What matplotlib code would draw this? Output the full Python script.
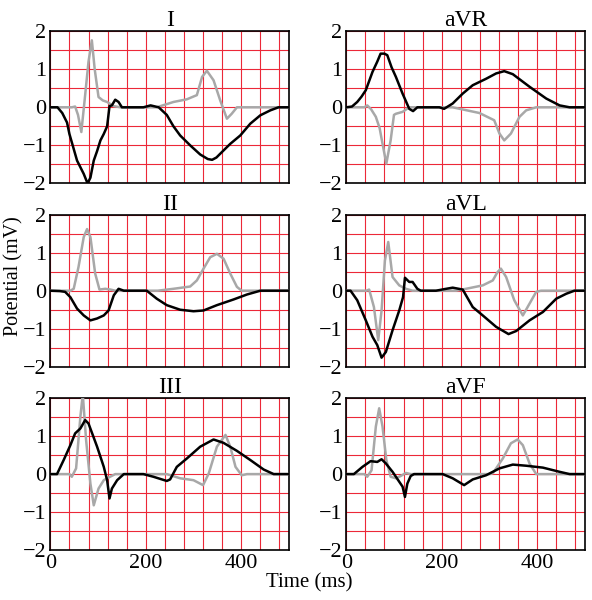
import matplotlib
matplotlib.use("Agg")
import matplotlib.pyplot as plt
import numpy as np

plt.rcParams["font.family"] = ["Liberation Serif", "DejaVu Serif"]

# lead name, then (time ms, potential mV) points for black and grey traces
lead_names = ["I", "aVR", "II", "aVL", "III", "aVF"]

I_black = [(0, 0), (15, 0), (25, -0.15), (35, -0.4), (40, -0.7), (48, -1.05), (56, -1.4),
           (70, -1.75), (78, -2.0), (84, -1.85), (91, -1.4), (98, -1.15), (105, -0.87),
           (112, -0.7), (119, -0.5), (124, 0.03), (129, 0.05), (136, 0.2), (143, 0.14),
           (150, 0), (195, 0), (210, 0.05), (227, 0), (244, -0.2), (258, -0.5), (272, -0.74),
           (293, -1.0), (314, -1.24), (330, -1.36), (339, -1.38), (348, -1.32), (356, -1.22),
           (377, -0.96), (398, -0.74), (419, -0.43), (440, -0.21), (461, -0.08), (478, 0),
           (500, 0)]
I_grey = [(0, 0), (45, 0), (52, 0.02), (58, -0.2), (65, -0.65), (72, 0.2), (80, 1.2),
          (87, 1.76), (93, 1.0), (101, 0.27), (110, 0.18), (119, 0.14), (133, 0.03),
          (147, 0), (223, 0), (258, 0.14), (286, 0.21), (307, 0.32), (318, 0.8), (328, 0.96),
          (342, 0.71), (356, 0.18), (370, -0.3), (380, -0.17), (391, 0), (500, 0)]

aVR_black = [(0, 0), (12, 0.02), (23, 0.14), (32, 0.28), (41, 0.45), (55, 0.93), (65, 1.2),
             (72, 1.41), (80, 1.41), (86, 1.37), (95, 1.05), (104, 0.8), (118, 0.36),
             (132, -0.04), (140, -0.1), (149, 0), (195, 0), (205, -0.04), (223, 0.1),
             (244, 0.36), (265, 0.58), (293, 0.75), (314, 0.89), (331, 0.95), (349, 0.87),
             (384, 0.54), (419, 0.23), (447, 0.05), (468, 0), (500, 0)]
aVR_grey = [(0, 0), (38, 0), (44, 0.05), (52, -0.05), (62, -0.25), (70, -0.55), (76, -0.96),
            (84, -1.48), (93, -0.87), (100, -0.2), (104, -0.17), (118, -0.12), (132, 0),
            (223, 0), (279, -0.15), (310, -0.34), (321, -0.69), (331, -0.87), (345, -0.69),
            (363, -0.25), (377, -0.08), (398, 0), (500, 0)]

II_black = [(0, 0), (20, -0.01), (31, -0.03), (42, -0.17), (56, -0.47), (70, -0.65),
            (84, -0.78), (98, -0.73), (112, -0.65), (122, -0.52), (133, -0.12), (143, 0.05),
            (154, 0), (202, 0), (223, -0.21), (244, -0.38), (272, -0.5), (300, -0.54),
            (321, -0.52), (349, -0.38), (384, -0.23), (412, -0.1), (440, 0), (500, 0)]
II_grey = [(0, 0), (42, 0), (49, 0.05), (59, 0.62), (70, 1.41), (77, 1.62), (84, 1.41),
           (94, 0.45), (103, 0.03), (115, 0.05), (126, 0.03), (136, 0), (225, 0),
           (258, 0.05), (293, 0.11), (307, 0.27), (321, 0.58), (335, 0.88), (349, 0.97),
           (363, 0.84), (377, 0.45), (391, 0.1), (401, 0), (500, 0)]

aVL_black = [(0, 0), (9, 0), (23, -0.25), (41, -0.78), (55, -1.21), (65, -1.43), (74, -1.76),
             (83, -1.61), (97, -1.04), (111, -0.52), (119, -0.17), (123, 0.34), (132, 0.23),
             (139, 0.23), (149, 0.05), (156, 0), (188, 0), (205, 0.04), (223, 0.08),
             (244, 0.03), (265, -0.43), (286, -0.65), (314, -0.95), (340, -1.14), (356, -1.06),
             (384, -0.78), (412, -0.56), (440, -0.21), (461, -0.08), (478, 0), (500, 0)]
aVL_grey = [(0, 0), (42, 0), (48, 0.03), (58, -0.43), (67, -1.3), (74, -0.52), (81, 0.79),
            (88, 1.28), (97, 0.36), (111, 0.14), (125, 0.05), (139, 0), (230, 0),
            (251, 0.05), (286, 0.14), (307, 0.27), (317, 0.49), (324, 0.58), (335, 0.36),
            (352, -0.25), (370, -0.65), (384, -0.34), (398, -0.03), (408, 0), (500, 0)]

III_black = [(0, 0), (14, 0), (28, 0.37), (42, 0.76), (52, 1.07), (63, 1.2), (73, 1.42),
             (80, 1.33), (98, 0.72), (112, 0.19), (119, -0.16), (124, -0.64), (129, -0.38),
             (140, -0.16), (154, 0), (195, 0), (216, -0.07), (244, -0.18), (251, -0.14),
             (265, 0.19), (286, 0.41), (314, 0.72), (342, 0.91), (363, 0.82), (391, 0.61),
             (419, 0.37), (447, 0.12), (468, 0), (500, 0)]
III_grey = [(0, 0), (40, 0), (45, -0.07), (54, 0.15), (63, 1.51), (68, 2.1), (75, 0.89),
            (84, -0.25), (91, -0.82), (101, -0.38), (112, -0.16), (122, -0.09), (136, 0),
            (244, 0), (272, -0.11), (300, -0.16), (320, -0.29), (332, 0.02), (349, 0.72),
            (367, 1.03), (377, 0.72), (388, 0.19), (401, -0.03), (412, 0), (500, 0)]

aVF_black = [(0, 0), (16, 0), (34, 0.19), (51, 0.34), (65, 0.32), (74, 0.39), (83, 0.28),
             (97, 0.06), (111, -0.2), (118, -0.33), (123, -0.6), (128, -0.25), (135, -0.05),
             (142, 0), (202, 0), (223, -0.11), (247, -0.29), (265, -0.14), (293, -0.03),
             (321, 0.15), (349, 0.25), (377, 0.22), (412, 0.17), (447, 0.06), (468, 0),
             (500, 0)]
aVF_grey = [(0, 0), (38, 0), (44, -0.07), (53, 0.1), (62, 1.25), (69, 1.73), (76, 1.25),
            (84, 0.37), (93, -0.07), (104, -0.11), (114, -0.05), (125, 0.03), (135, 0),
            (300, 0), (307, 0.02), (328, 0.41), (345, 0.81), (359, 0.91), (370, 0.76),
            (384, 0.28), (398, 0), (500, 0)]

black_traces = [I_black, aVR_black, II_black, aVL_black, III_black, aVF_black]
grey_traces = [I_grey, aVR_grey, II_grey, aVL_grey, III_grey, aVF_grey]

fig, axes = plt.subplots(3, 2, figsize=(5.92, 6.0), dpi=100)
fig.subplots_adjust(left=0.085, right=0.988, bottom=0.083, top=0.948, wspace=0.24, hspace=0.205)

for i, ax in enumerate(axes.flat):
    g = np.array(grey_traces[i])
    b = np.array(black_traces[i])
    ax.plot(g[:, 0], g[:, 1], color="#a8a8a8", lw=1.8, zorder=3, solid_joinstyle="round")
    ax.plot(b[:, 0], b[:, 1], color="black", lw=1.8, zorder=4, solid_joinstyle="round")

    ax.set_xlim(0, 500)
    ax.set_ylim(-2, 2)
    ax.set_xticks([0, 200, 400])
    ax.set_yticks([-2, -1, 0, 1, 2])
    # red grid on minor ticks only, keeping those that sit on major ticks
    ax.xaxis.remove_overlapping_locs = False
    ax.yaxis.remove_overlapping_locs = False
    ax.set_xticks(np.arange(0, 500, 40), minor=True)
    ax.set_yticks(np.arange(-2, 2.01, 0.5), minor=True)
    ax.grid(which="minor", color="#ec2838", lw=0.8)
    ax.grid(which="major", visible=False)
    ax.tick_params(which="both", length=0, labelsize=16, pad=3)
    ax.set_title(lead_names[i], fontsize=17, pad=1)
    for s in ax.spines.values():
        s.set_linewidth(1.2)
    if i < 4:
        ax.set_xticklabels([])

fig.text(0.522, 0.028, "Time (ms)", fontsize=15, ha="center", va="center")
fig.text(0.023, 0.54, "Potential (mV)", fontsize=14.5, ha="center", va="center", rotation=90)

fig.savefig("out.png", dpi=100)
